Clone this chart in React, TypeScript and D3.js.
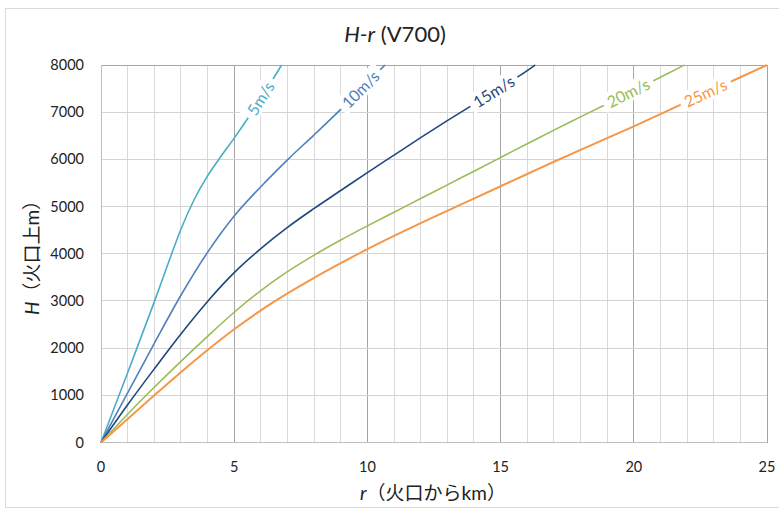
import React, { useEffect, useRef } from 'react';
import * as d3 from 'd3';

// wind speed series: distance from crater (km) and height above crater (m)
const seriesNames = ['5m/s', '10m/s', '15m/s', '20m/s', '25m/s'];
const seriesColors = ['#4BACC6', '#4F81BD', '#1F497D', '#9BBB59', '#F79646'];

const r5 = [0, 1, 2, 2.5, 3, 3.5, 4, 4.5, 5, 5.5, 6, 6.78];
const h5 = [0, 1480, 2980, 3760, 4520, 5150, 5650, 6060, 6450, 6860, 7290, 8000];

const r10 = [0, 1, 2, 3, 4, 5, 6, 7, 8, 9, 10, 10.66];
const h10 = [0, 1050, 2100, 3120, 4030, 4800, 5420, 5990, 6520, 7060, 7620, 8000];

const r15 = [0, 1, 2, 3, 4, 5, 6, 7, 8, 9, 10, 11, 12, 13, 14, 15, 16, 16.3];
const h15 = [0, 800, 1560, 2300, 2990, 3600, 4110, 4560, 4960, 5340, 5720, 6090, 6460, 6820, 7170, 7520, 7880, 8000];

const r20 = [0, 1, 2, 3, 4, 5, 6, 7, 8, 9, 10, 11, 12, 13, 14, 15, 16, 17, 18, 19, 20, 21, 21.9];
const h20 = [0, 600, 1170, 1720, 2250, 2760, 3220, 3620, 3970, 4290, 4590, 4880, 5170, 5460, 5750, 6040, 6330, 6620, 6900, 7180, 7460, 7740, 8000];

const r25 = [0, 1, 2, 3, 4, 5, 6, 7, 8, 9, 10, 11, 12, 13, 14, 15, 16, 17, 18, 19, 20, 21, 22, 23, 24, 25];
const h25 = [0, 500, 1000, 1490, 1960, 2400, 2800, 3160, 3490, 3800, 4100, 4380, 4650, 4910, 5170, 5430, 5690, 5950, 6200, 6450, 6700, 6960, 7220, 7480, 7740, 8000];

// where the inline label sits along each curve (km)
const labelR = [6.0, 9.75, 14.75, 19.8, 22.7];

const xTicks = [0, 5, 10, 15, 20, 25];
const yTicks = [0, 1000, 2000, 3000, 4000, 5000, 6000, 7000, 8000];

const App = () => {
  const svgRef = useRef(null);
  const width = 779;
  const height = 515;

  useEffect(() => {
    d3.select(svgRef.current).selectAll('*').remove();
    const svg = d3.select(svgRef.current);

    const font = "Lato, 'Noto Sans CJK JP', sans-serif";
    const margin = { top: 65, right: 12, bottom: 72.5, left: 101 };
    const innerWidth = width - margin.left - margin.right;
    const innerHeight = height - margin.top - margin.bottom;

    // chart area border
    svg.append('rect')
      .attr('x', 5.5).attr('y', 8.5)
      .attr('width', 790).attr('height', 499)
      .attr('fill', 'white')
      .attr('stroke', '#d9d9d9');

    const xScale = d3.scaleLinear().domain([0, 25]).range([0, innerWidth]);
    const yScale = d3.scaleLinear().domain([0, 8000]).range([innerHeight, 0]);

    const g = svg.append('g')
      .attr('transform', `translate(${margin.left},${margin.top})`);

    // grid
    const grid = g.append('g').attr('shape-rendering', 'crispEdges');
    d3.range(1, 25).forEach(v => {
      grid.append('line')
        .attr('x1', xScale(v)).attr('x2', xScale(v))
        .attr('y1', 0).attr('y2', innerHeight)
        .attr('stroke', v % 5 === 0 ? '#a6a6a6' : '#d9d9d9');
    });
    yTicks.filter(v => v > 0 && v < 8000).forEach(v => {
      grid.append('line')
        .attr('x1', 0).attr('x2', innerWidth)
        .attr('y1', yScale(v)).attr('y2', yScale(v))
        .attr('stroke', '#d4d4d4');
    });
    // top and right border
    grid.append('line').attr('x1', 0).attr('x2', innerWidth).attr('y1', 0).attr('y2', 0).attr('stroke', '#a6a6a6');
    grid.append('line').attr('x1', innerWidth).attr('x2', innerWidth).attr('y1', 0).attr('y2', innerHeight).attr('stroke', '#a6a6a6');
    // axes
    grid.append('line').attr('x1', 0).attr('x2', innerWidth).attr('y1', innerHeight).attr('y2', innerHeight).attr('stroke', '#bfbfbf');
    grid.append('line').attr('x1', 0).attr('x2', 0).attr('y1', 0).attr('y2', innerHeight).attr('stroke', '#bfbfbf');

    // tick labels
    xTicks.forEach(v => {
      g.append('text')
        .attr('x', xScale(v)).attr('y', innerHeight + 29)
        .attr('text-anchor', 'middle')
        .style('font-family', font).style('font-size', '14.5px')
        .attr('fill', '#222')
        .text(v);
    });
    yTicks.forEach(v => {
      g.append('text')
        .attr('x', -17).attr('y', yScale(v) + 5)
        .attr('text-anchor', 'end')
        .style('font-family', font).style('font-size', '14.5px')
        .attr('fill', '#222')
        .text(v);
    });

    const allR = [r5, r10, r15, r20, r25];
    const allH = [h5, h10, h15, h20, h25];

    const line = d3.line()
      .x(d => xScale(d[0]))
      .y(d => yScale(d[1]))
      .curve(d3.curveMonotoneX);

    const interp = (rs, hs, r) => {
      const i = Math.max(1, Math.min(rs.length - 1, d3.bisectLeft(rs, r)));
      const t = (r - rs[i - 1]) / (rs[i] - rs[i - 1]);
      return hs[i - 1] + t * (hs[i] - hs[i - 1]);
    };

    seriesNames.forEach((name, i) => {
      const pts = allR[i].map((r, j) => [r, allH[i][j]]);
      g.append('path')
        .datum(pts)
        .attr('fill', 'none')
        .attr('stroke', seriesColors[i])
        .attr('stroke-width', i === 4 ? 2 : 1.6)
        .attr('d', line);
    });

    // inline labels on the curves
    seriesNames.forEach((name, i) => {
      const r = labelR[i];
      const px = xScale(r);
      const py = yScale(interp(allR[i], allH[i], r));
      const dx = xScale(r + 0.4) - xScale(r - 0.4);
      const dy = yScale(interp(allR[i], allH[i], r + 0.4)) - yScale(interp(allR[i], allH[i], r - 0.4));
      const angle = Math.atan2(dy, dx) * 180 / Math.PI;

      const lg = g.append('g')
        .attr('transform', `translate(${px},${py}) rotate(${angle})`);
      const bg = lg.append('rect').attr('fill', 'white');
      const t = lg.append('text')
        .attr('text-anchor', 'middle')
        .attr('dy', '0.35em')
        .style('font-family', font).style('font-size', '16px')
        .attr('fill', seriesColors[i])
        .text(name);
      const bb = t.node().getBBox();
      bg.attr('x', bb.x - 5).attr('y', bb.y)
        .attr('width', bb.width + 10).attr('height', bb.height);
    });

    // title
    const title = svg.append('text')
      .attr('x', 395).attr('y', 42)
      .attr('text-anchor', 'middle')
      .style('font-family', font).style('font-size', '22px')
      .attr('fill', '#222');
    title.append('tspan').style('font-style', 'italic').text('H-r');
    title.append('tspan').text(' (V700)');

    // x axis title
    const xt = svg.append('text')
      .attr('x', 433).attr('y', 500)
      .attr('text-anchor', 'middle')
      .style('font-family', font).style('font-size', '19px')
      .attr('fill', '#222');
    xt.append('tspan').style('font-style', 'italic').text('r');
    xt.append('tspan').text('（火口からkm）');

    // y axis title
    const yt = svg.append('text')
      .attr('transform', 'translate(39,253) rotate(-90)')
      .attr('text-anchor', 'middle')
      .style('font-family', font).style('font-size', '19px')
      .attr('fill', '#222');
    yt.append('tspan').style('font-style', 'italic').text('H');
    yt.append('tspan').text('（火口上m）');
  }, []);

  return (
    <div>
      <svg ref={svgRef} width={width} height={height}
        style={{ position: 'absolute', left: 0, top: 0 }}></svg>
    </div>
  );
};

export default App;
